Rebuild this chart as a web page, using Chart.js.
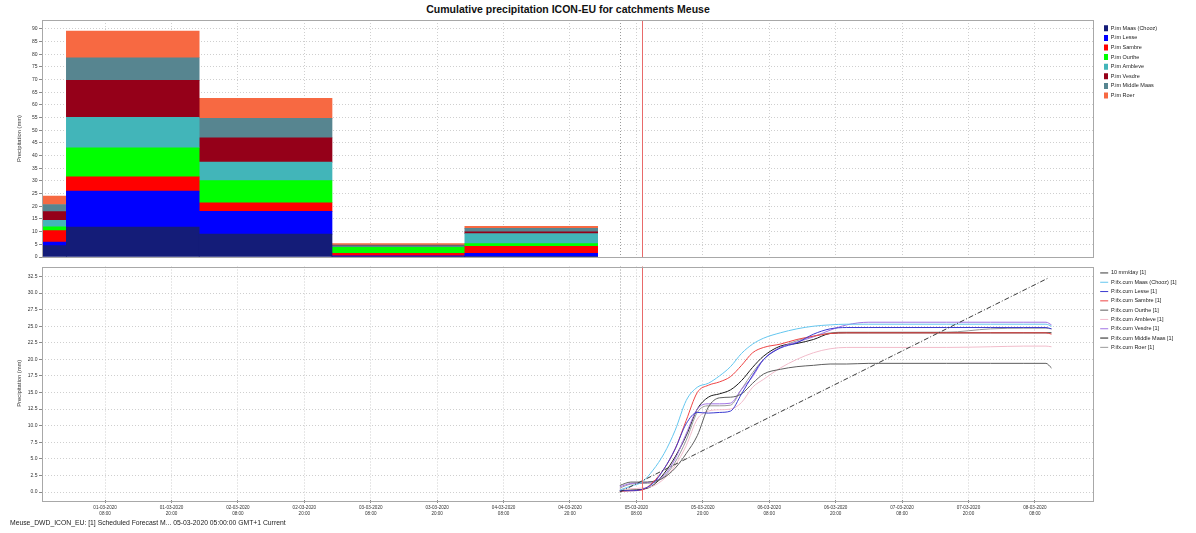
<!DOCTYPE html>
<html>
<head>
<meta charset="utf-8">
<script src="https://cdn.jsdelivr.net/npm/chart.js@4.4.0/dist/chart.umd.min.js"></script>
<style>
body { margin: 0; background: #fff; width: 1196px; height: 533px; position: relative; overflow: hidden; font-family: "Liberation Sans", Arial, sans-serif; }
#title { position: absolute; left: 0; top: 3px; width: 1136px; text-align: center; font-weight: bold; font-size: 10.5px; color: #111; }
#topChart { position: absolute; left: 0; top: 0; }
#bottomChart { position: absolute; left: 0; top: 262px; }
#footer { position: absolute; left: 10px; top: 519px; font-size: 6.8px; color: #222; white-space: nowrap; }
</style>
</head>
<body>
<div id="title">Cumulative precipitation ICON-EU for catchments Meuse</div>
<canvas id="topChart" width="1196" height="262"></canvas>
<canvas id="bottomChart" width="1196" height="271"></canvas>
<div id="footer">Meuse_DWD_ICON_EU: [1] Scheduled Forecast M... 05-03-2020 05:00:00 GMT+1 Current</div>
<script>
// hours are counted from 01-03-2020 00:00
var tickHours = [8, 20, 32, 44, 56, 68, 80, 92, 104, 116, 128, 140, 152, 164, 176];
var forecastHour = 101;   // 05-03 05:00
var nowHour = 105;

// daily precipitation (bar centre hour)
var barHours = [-11, 13, 37, 61, 85];
var pMaas    = [4.5, 11.8, 9.0, 0.3, 0.3];
var pLesse   = [1.4, 14.2, 9.0, 0.2, 1.1];
var pSambre  = [4.5, 5.6, 3.4, 0.9, 2.8];
var pOurthe  = [1.5, 11.5, 8.7, 2.4, 1.05];
var pAmbleve = [2.6, 12.0, 7.3, 0.3, 3.95];
var pVesdre  = [3.4, 14.6, 9.6, 0.25, 0.7];
var pMiddle  = [2.8, 8.9, 7.7, 0.35, 1.4];
var pRoer    = [3.3, 10.5, 7.9, 0.55, 0.8];

// cumulative forecast
var fcHours    = [101, 103, 105, 107, 109, 111, 113, 115, 117, 119, 121, 123, 125, 127, 130, 133, 136, 139, 142, 146, 152, 160, 168, 174, 178, 179];
var cumMaas    = [0.3, 0.9, 1.5, 3.3, 5.8, 9.3, 13.8, 15.8, 16.4, 17.5, 18.9, 20.9, 22.3, 23.2, 24.0, 24.6, 25.0, 25.2, 25.3, 25.3, 25.3, 25.3, 25.3, 25.3, 25.3, 25.0];
var cumLesse   = [0.2, 0.2, 0.4, 1.3, 3.5, 6.5, 10.3, 12.0, 11.9, 12.0, 12.2, 14.8, 17.6, 20.0, 21.7, 22.5, 23.8, 24.6, 24.8, 24.8, 24.8, 24.8, 24.8, 24.8, 24.8, 24.6];
var cumSambre  = [0.1, 0.2, 0.3, 1.5, 3.5, 6.5, 10.8, 15.0, 16.1, 16.6, 17.4, 19.1, 21.0, 21.8, 22.3, 23.0, 23.5, 23.9, 24.0, 24.0, 24.0, 24.0, 24.0, 24.0, 24.0, 23.8];
var cumOurthe  = [1.0, 1.5, 1.5, 1.6, 2.2, 3.6, 5.8, 8.5, 12.8, 14.2, 14.3, 14.8, 16.4, 17.8, 18.5, 18.9, 19.1, 19.3, 19.3, 19.4, 19.4, 19.4, 19.4, 19.4, 19.4, 18.7];
var cumAmbleve = [0.4, 0.5, 0.6, 0.9, 2.0, 4.0, 7.0, 11.0, 12.2, 12.4, 12.5, 13.5, 15.8, 17.0, 18.7, 20.0, 21.0, 21.6, 21.8, 21.8, 21.8, 21.8, 21.9, 22.0, 22.0, 21.9];
var cumVesdre  = [0.8, 1.3, 1.4, 1.6, 2.5, 5.0, 8.8, 12.5, 13.3, 13.3, 13.4, 15.5, 17.4, 20.0, 21.8, 22.6, 23.4, 24.4, 25.2, 25.6, 25.6, 25.6, 25.6, 25.6, 25.6, 25.2];
var cumMiddle  = [0.2, 0.3, 0.4, 1.0, 2.8, 5.3, 8.5, 12.5, 14.3, 14.8, 15.4, 16.8, 18.8, 20.5, 22.0, 22.4, 23.0, 23.9, 24.0, 24.0, 24.0, 24.0, 24.0, 24.0, 24.0, 24.0];
var cumRoer    = [0.6, 1.2, 1.3, 1.4, 2.3, 4.5, 7.8, 12.0, 13.0, 13.0, 13.1, 15.5, 18.0, 20.0, 21.8, 22.8, 23.5, 24.0, 24.1, 24.1, 24.1, 24.1, 24.6, 24.7, 24.7, 24.6];
var refHours   = [101, 178.5];
var refValues  = [0, 32.3];

function pad(n) { return (n < 10 ? '0' : '') + n; }
function hourLabel(h) {
    var d = Math.floor(h / 24);
    return [pad(d + 1) + '-03-2020', pad(h - d * 24) + ':00'];
}
function pts(xs, ys) {
    return xs.map(function (x, i) { return {x: x, y: ys[i]}; });
}

var legendPlacer = {
    id: 'legendPlacer',
    beforeInit: function (chart, args, opts) {
        var lg = chart.legend, fit = lg.fit;
        lg.fit = function () { fit.call(this); this.width = opts.width; };
    },
    afterLayout: function (chart, args, opts) {
        chart.legend.left += opts.dx;
        chart.legend.top += opts.dy;
    }
};

var frame = {
    id: 'frame',
    beforeDatasetsDraw: function (chart) {
        var a = chart.chartArea, ctx = chart.ctx, xs = chart.scales.x;
        ctx.save();
        var xf = Math.round(xs.getPixelForValue(forecastHour)) + 0.5;
        ctx.strokeStyle = '#9a9a9a';
        ctx.setLineDash([1, 2]);
        ctx.beginPath(); ctx.moveTo(xf, a.top); ctx.lineTo(xf, a.bottom); ctx.stroke();
        ctx.restore();
    },
    afterDatasetsDraw: function (chart) {
        var a = chart.chartArea, ctx = chart.ctx, xs = chart.scales.x;
        ctx.save();
        ctx.setLineDash([]);
        var xn = Math.round(xs.getPixelForValue(nowHour)) + 0.5;
        ctx.strokeStyle = '#e86a6a';
        ctx.lineWidth = 1;
        ctx.beginPath(); ctx.moveTo(xn, a.top); ctx.lineTo(xn, a.bottom); ctx.stroke();
        ctx.strokeStyle = '#a8a8a8';
        ctx.strokeRect(Math.round(a.left) + 0.5, Math.round(a.top) + 0.5, Math.round(a.right - a.left), Math.round(a.bottom - a.top));
        ctx.restore();
    }
};

var gridOpts = {color: '#cfcfcf', tickColor: '#8a8a8a', tickLength: 3, tickBorderDash: [], offset: false};
var tickFont = {family: 'Liberation Sans', size: 5};
var titleFont = {family: 'Liberation Sans', size: 5.8};
var legendFont = {family: 'Liberation Sans', size: 5.5};

function xAxis(showLabels) {
    return {
        type: 'linear', min: -3.4, max: 186.5,
        offset: false,
        stacked: true,
        afterBuildTicks: function (s) { s.ticks = tickHours.map(function (v) { return {value: v}; }); },
        afterFit: function (s) { s.height = showLabels ? 20 : 0; },
        grid: Object.assign({}, gridOpts, {drawTicks: showLabels}),
        border: {display: false, dash: [1, 2]},
        ticks: {
            display: showLabels, autoSkip: false, maxRotation: 0, padding: 2,
            color: '#333', font: {family: 'Liberation Sans', size: 4.6},
            callback: function (v) { return hourLabel(v); }
        }
    };
}

function yAxis(min, max, step, digits) {
    return {
        min: min, max: max,
        afterFit: function (s) { s.width = 40; },
        grid: gridOpts,
        border: {display: false, dash: [1, 2]},
        title: {display: true, text: 'Precipitation (mm)', color: '#333', font: titleFont, padding: {top: 14, bottom: 0}},
        ticks: {
            stepSize: step, includeBounds: false, padding: 1.5, color: '#333', font: tickFont,
            callback: function (v) { return v.toFixed(digits); }
        }
    };
}

var barNames = ['P.im Maas (Chooz)', 'P.im Lesse', 'P.im Sambre', 'P.im Ourthe', 'P.im Ambleve', 'P.im Vesdre', 'P.im Middle Maas', 'P.im Roer'];
var barSeries = [pMaas, pLesse, pSambre, pOurthe, pAmbleve, pVesdre, pMiddle, pRoer];
var barColors = ['#141c78', '#0000ff', '#ff0000', '#00ff00', '#42b5b9', '#950019', '#578590', '#f76942'];

new Chart(document.getElementById('topChart'), {
    type: 'bar',
    data: {
        datasets: barSeries.map(function (vals, i) {
            return {
                label: barNames[i],
                data: pts(barHours, vals),
                backgroundColor: barColors[i],
                borderWidth: 0,
                stack: 'p',
                barThickness: function (ctx) {
                    var s = ctx.chart.scales.x;
                    return s ? s.getPixelForValue(24) - s.getPixelForValue(0) : 10;
                }
            };
        })
    },
    options: {
        responsive: false,
        animation: false,
        layout: {padding: {left: 2, right: 0, top: 20, bottom: 5}},
        scales: {
            x: xAxis(false),
            y: Object.assign(yAxis(0, 93.5, 5, 0), {stacked: true})
        },
        plugins: {
            legend: {
                position: 'right', align: 'start',
                labels: {boxWidth: 4, boxHeight: 6, padding: 3.6, color: '#222', font: legendFont}
            },
            legendPlacer: {width: 103, dx: 7.4, dy: 1.7},
            tooltip: {enabled: false}
        }
    },
    plugins: [legendPlacer, frame]
});

var lineNames = ['10 mm/day [1]', 'P.ifx.cum Maas (Chooz) [1]', 'P.ifx.cum Lesse [1]', 'P.ifx.cum Sambre [1]', 'P.ifx.cum Ourthe [1]', 'P.ifx.cum Ambleve [1]', 'P.ifx.cum Vesdre [1]', 'P.ifx.cum Middle Maas [1]', 'P.ifx.cum Roer [1]'];
var lineSeries = [null, cumMaas, cumLesse, cumSambre, cumOurthe, cumAmbleve, cumVesdre, cumMiddle, cumRoer];
var lineColors = ['#3a3a3a', '#64c6ef', '#3b3bd0', '#ee4444', '#5e5e5e', '#f2bccb', '#a173e4', '#1c1c1c', '#9a9a9a'];

new Chart(document.getElementById('bottomChart'), {
    type: 'line',
    data: {
        datasets: lineSeries.map(function (vals, i) {
            var isRef = vals === null;
            return {
                label: lineNames[i],
                data: isRef ? pts(refHours, refValues) : pts(fcHours, vals),
                borderColor: lineColors[i],
                backgroundColor: lineColors[i],
                borderWidth: 1,
                borderDash: isRef ? [5, 2, 1, 2] : [],
                pointRadius: 0,
                pointStyle: 'line',
                fill: false,
                cubicInterpolationMode: isRef ? 'default' : 'monotone'
            };
        })
    },
    options: {
        responsive: false,
        animation: false,
        layout: {padding: {left: 2, right: 0, top: 3, bottom: 13}},
        scales: {
            x: xAxis(true),
            y: yAxis(-1.2, 34, 2.5, 1)
        },
        plugins: {
            legend: {
                position: 'right', align: 'start',
                labels: {usePointStyle: true, pointStyleWidth: 8, padding: 3.8, color: '#222', font: legendFont}
            },
            legendPlacer: {width: 103, dx: 3.4, dy: 1.4},
            tooltip: {enabled: false}
        }
    },
    plugins: [legendPlacer, frame]
});
</script>
</body>
</html>
